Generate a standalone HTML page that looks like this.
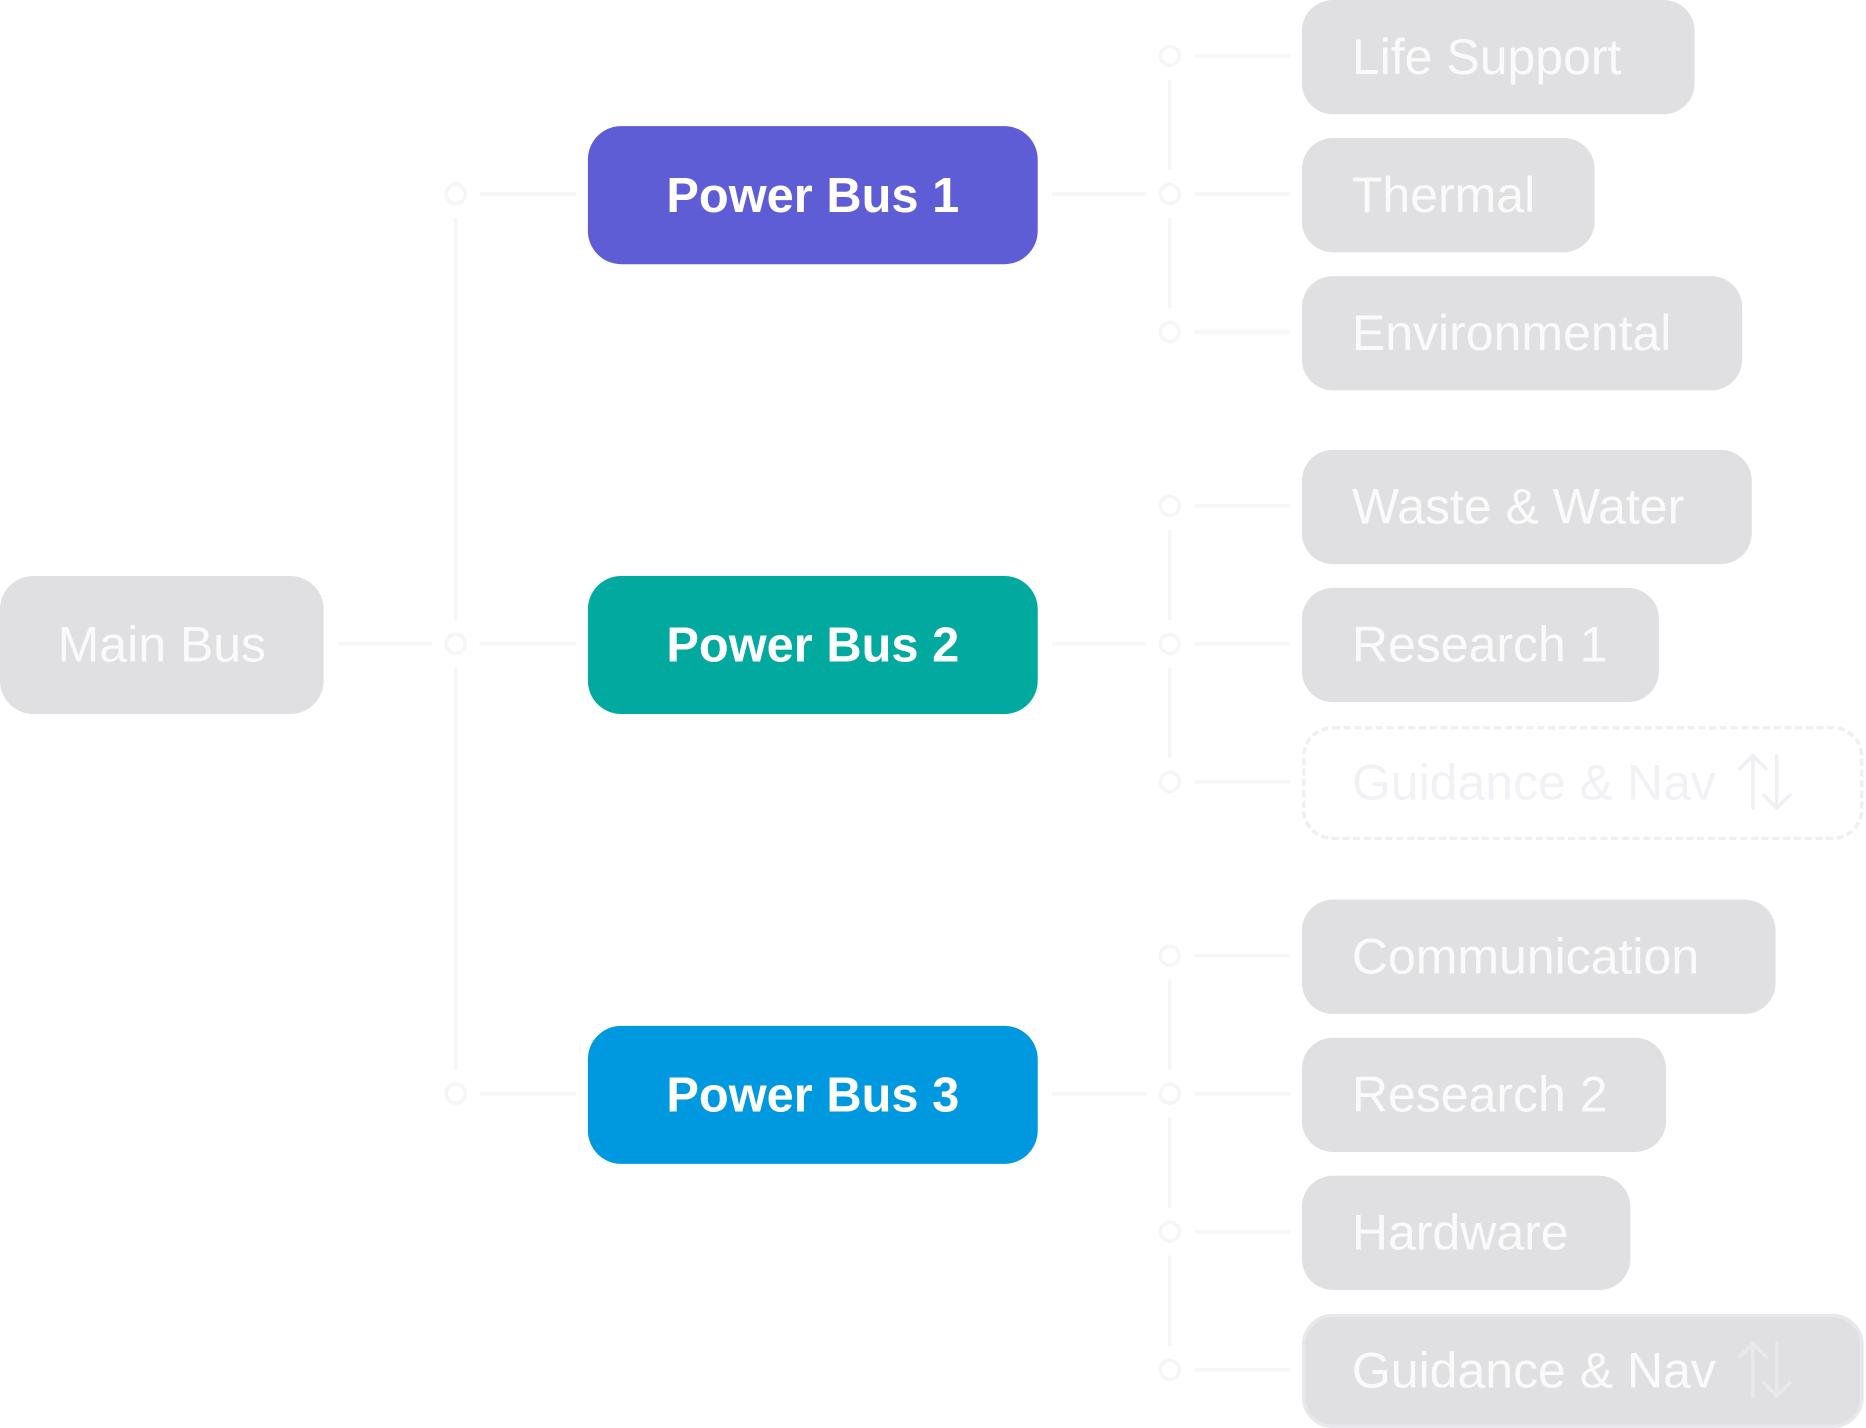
<!DOCTYPE html>
<html><head><style>
html,body{margin:0;padding:0;background:#fff;width:1866px;height:1428px;overflow:hidden}
#c{position:absolute;left:0;top:0;width:1568px;height:1200px;transform:scale(1.19005);transform-origin:0 0;font-family:"Liberation Sans",sans-serif}
.b{position:absolute;box-sizing:border-box;border-radius:28px;display:flex;align-items:center;color:#fff;font-size:42px;white-space:nowrap}
.p{justify-content:center;font-weight:bold;font-size:41px}
.l{background:#e0e0e2;color:#fafafb;padding-left:42px;border-radius:26px}
svg{position:absolute;left:0;top:0}
.ar{position:relative;margin-left:18px;width:54px;height:50px}
</style></head><body><div id="c">
<svg width="1568" height="1200" fill="none" stroke="#f6f6f7" stroke-width="3">
<line x1="284" y1="541" x2="363" y2="541"/>
<line x1="403" y1="163" x2="484" y2="163"/><line x1="403" y1="541" x2="484" y2="541"/><line x1="403" y1="919" x2="484" y2="919"/>
<line x1="383" y1="183" x2="383" y2="521"/><line x1="383" y1="561" x2="383" y2="899"/>
<circle cx="383" cy="163" r="8"/><circle cx="383" cy="541" r="8"/><circle cx="383" cy="919" r="8"/>
<line x1="884" y1="163" x2="963" y2="163"/><line x1="884" y1="541" x2="963" y2="541"/><line x1="884" y1="919" x2="963" y2="919"/>
<g>
<circle cx="983" cy="47" r="8"/><circle cx="983" cy="163" r="8"/><circle cx="983" cy="279" r="8"/>
<circle cx="983" cy="425" r="8"/><circle cx="983" cy="541" r="8"/><circle cx="983" cy="657" r="8"/>
<circle cx="983" cy="803" r="8"/><circle cx="983" cy="919" r="8"/><circle cx="983" cy="1035" r="8"/><circle cx="983" cy="1151" r="8"/>
<line x1="983" y1="67" x2="983" y2="143"/><line x1="983" y1="183" x2="983" y2="259"/>
<line x1="983" y1="445" x2="983" y2="521"/><line x1="983" y1="561" x2="983" y2="637"/>
<line x1="983" y1="823" x2="983" y2="899"/><line x1="983" y1="939" x2="983" y2="1015"/><line x1="983" y1="1055" x2="983" y2="1131"/>
<line x1="1004" y1="47" x2="1084" y2="47"/><line x1="1004" y1="163" x2="1084" y2="163"/><line x1="1004" y1="279" x2="1084" y2="279"/>
<line x1="1004" y1="425" x2="1084" y2="425"/><line x1="1004" y1="541" x2="1084" y2="541"/><line x1="1004" y1="657" x2="1084" y2="657"/>
<line x1="1004" y1="803" x2="1084" y2="803"/><line x1="1004" y1="919" x2="1084" y2="919"/><line x1="1004" y1="1035" x2="1084" y2="1035"/><line x1="1004" y1="1151" x2="1084" y2="1151"/>
</g>
</svg>
<div class="b" style="left:0;top:484px;width:272px;height:116px;background:#e0e0e2;justify-content:center;color:#fafafb">Main Bus</div>
<div class="b p" style="left:494px;top:106px;width:378px;height:116px;background:#5f5dd6">Power Bus 1</div>
<div class="b p" style="left:494px;top:484px;width:378px;height:116px;background:#02a99e">Power Bus 2</div>
<div class="b p" style="left:494px;top:862px;width:378px;height:116px;background:#0099e0">Power Bus 3</div>
<div class="b l" style="left:1094px;top:0;width:330px;height:96px">Life Support</div>
<div class="b l" style="left:1094px;top:116px;width:246px;height:96px">Thermal</div>
<div class="b l" style="left:1094px;top:232px;width:370px;height:96px">Environmental</div>
<div class="b l" style="left:1094px;top:378px;width:378px;height:96px">Waste &amp; Water</div>
<div class="b l" style="left:1094px;top:494px;width:300px;height:96px">Research 1</div>
<div class="b l" style="left:1094px;top:610px;width:472px;height:96px;background:transparent;border:3px dashed #f0f0f4;color:#f2f2f6;padding-left:39px">Guidance &amp; Nav <svg class="ar" viewBox="0 0 54 50" stroke="#f0f0f4" stroke-width="3" fill="none" stroke-linecap="round" stroke-linejoin="round"><path d="M13 46V2M2 13L13 2L24 13M33 2V46M22 35L33 46L44 35"/></svg></div>
<div class="b l" style="left:1094px;top:756px;width:398px;height:96px">Communication</div>
<div class="b l" style="left:1094px;top:872px;width:306px;height:96px">Research 2</div>
<div class="b l" style="left:1094px;top:988px;width:276px;height:96px">Hardware</div>
<div class="b l" style="left:1094px;top:1104px;width:472px;height:96px;border:3px solid #e8e8ec;padding-left:39px">Guidance &amp; Nav <svg class="ar" viewBox="0 0 54 50" stroke="#e9e9ed" stroke-width="3" fill="none" stroke-linecap="round" stroke-linejoin="round"><path d="M13 46V2M2 13L13 2L24 13M33 2V46M22 35L33 46L44 35"/></svg></div>
</div></body></html>
